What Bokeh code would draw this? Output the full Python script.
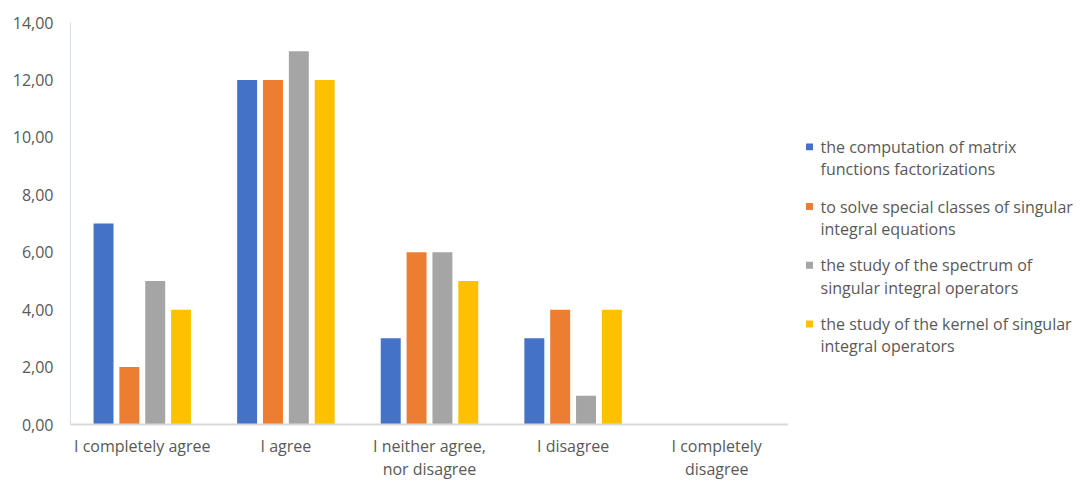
from bokeh.plotting import figure
from bokeh.layouts import row
from bokeh.models import FactorRange, ColumnDataSource
from bokeh.core.properties import value
from bokeh.transform import dodge
from bokeh.embed import file_html
from bokeh.resources import INLINE

categories = ["I completely agree", "I agree", "I neither agree,\nnor disagree",
              "I disagree", "I completely\ndisagree"]
series_lines = [
    ["the computation of matrix", "functions factorizations"],
    ["to solve special classes of singular", "integral equations"],
    ["the study of the spectrum of", "singular integral operators"],
    ["the study of the kernel of singular", "integral operators"],
]
matrix_factorizations = [7, 12, 3, 3, 0]
singular_equations = [2, 12, 6, 4, 0]
operator_spectrum = [5, 13, 6, 1, 0]
operator_kernel = [4, 12, 5, 4, 0]
y_ticks = [0, 2, 4, 6, 8, 10, 12, 14]
y_tick_labels = ["0,00", "2,00", "4,00", "6,00", "8,00", "10,00", "12,00", "14,00"]

colors = ["#4472C4", "#ED7D31", "#A5A5A5", "#FFC000"]
offsets = [-0.27, -0.09, 0.09, 0.27]
text_color = "#595959"
font = "Open Sans"
font_size = "16px"

TOP, BOTTOM = 22, 56

source = ColumnDataSource(data=dict(
    cat=categories,
    s0=matrix_factorizations,
    s1=singular_equations,
    s2=operator_spectrum,
    s3=operator_kernel,
))

p = figure(
    width=788, height=482,
    x_range=FactorRange(*categories, range_padding=0),
    y_range=(0, 14),
    output_backend="svg", toolbar_location=None,
    min_border_left=70, min_border_right=0,
    min_border_top=TOP, min_border_bottom=BOTTOM,
)
p.outline_line_color = None
p.grid.visible = False

for i, key in enumerate(["s0", "s1", "s2", "s3"]):
    p.vbar(x=dodge("cat", offsets[i], range=p.x_range), top=key, width=0.139,
           source=source, fill_color=colors[i], line_color=None)

# value axis
yax = p.yaxis[0]
yax.ticker = y_ticks
yax.major_label_overrides = {t: l for t, l in zip(y_ticks, y_tick_labels)}
yax.axis_line_color = "#d6e0f0"
yax.major_tick_line_color = None
yax.minor_tick_line_color = None
yax.major_tick_out = 0
yax.major_tick_in = 0
yax.major_label_text_font = font
yax.major_label_text_font_size = font_size
yax.major_label_text_color = text_color
yax.major_label_standoff = 17

# category axis
xax = p.xaxis[0]
xax.axis_line_color = "#D9D9D9"
xax.axis_line_width = 2
xax.major_tick_line_color = None
xax.minor_tick_line_color = None
xax.major_tick_out = 0
xax.major_tick_in = 0
xax.major_label_text_font = font
xax.major_label_text_font_size = font_size
xax.major_label_text_color = text_color
xax.major_label_text_line_height = 1.05
xax.major_label_standoff = 10

# legend panel; its frame spans the same rows as the chart frame,
# so the y range is given in page pixels
leg = figure(
    width=293, height=482,
    x_range=(0, 293), y_range=(482 - BOTTOM, TOP),
    output_backend="svg", toolbar_location=None,
    min_border_left=0, min_border_right=0,
    min_border_top=TOP, min_border_bottom=BOTTOM,
)
leg.axis.visible = False
leg.grid.visible = False
leg.outline_line_color = None

item_top = [147, 207, 266, 325]
line_gap = 22.5
sq_x, sq_size, text_x = 21, 7, 32
leg.rect(x=[sq_x] * 4, y=item_top, width=sq_size, height=sq_size,
         fill_color=colors, line_color=None)
first_lines = [s[0] for s in series_lines]
second_lines = [s[1] for s in series_lines]
leg.text(x=[text_x] * 4, y=item_top, text=first_lines,
         text_font=value(font), text_font_size=font_size, text_color=text_color,
         text_align="left", text_baseline="middle")
leg.text(x=[text_x] * 4, y=[t + line_gap for t in item_top], text=second_lines,
         text_font=value(font), text_font_size=font_size, text_color=text_color,
         text_align="left", text_baseline="middle")

open("out.html", "w").write(file_html(row(p, leg), INLINE))
